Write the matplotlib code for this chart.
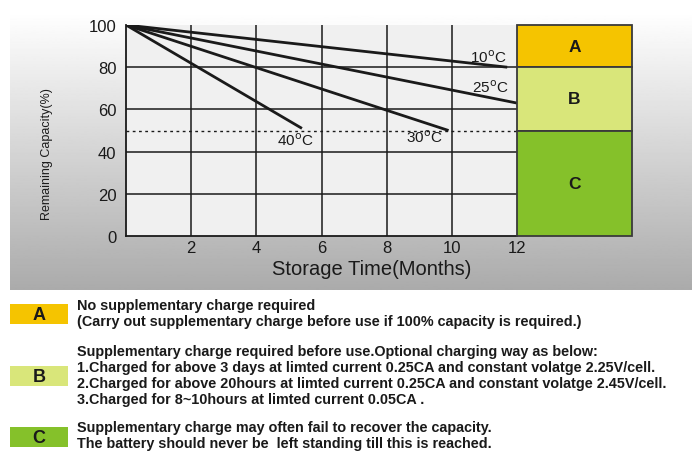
import numpy as np
import matplotlib.pyplot as plt
from matplotlib.patches import Rectangle

# Data
curve_labels = ['10$^\\mathrm{o}$C', '25$^\\mathrm{o}$C', '30$^\\mathrm{o}$C', '40$^\\mathrm{o}$C']
curve_months = [[0, 11.7], [0, 12.0], [0, 9.9], [0, 5.4]]
curve_capacity = [[100, 80], [100, 63], [100, 50], [100, 51]]
label_pos = [(11.12, 84.8), (11.17, 70.9), (9.15, 47.2), (5.19, 45.7)]

x_ticks = [2, 4, 6, 8, 10, 12]
y_ticks = [0, 20, 40, 60, 80, 100]

zone_names = ['A', 'B', 'C']
zone_low = [80, 50, 0]
zone_high = [100, 80, 50]
zone_colors = ['#f5c400', '#d9e67a', '#85c12a']

zone_text = [
    ['No supplementary charge required',
     '(Carry out supplementary charge before use if 100% capacity is required.)'],
    ['Supplementary charge required before use.Optional charging way as below:',
     '1.Charged for above 3 days at limted current 0.25CA and constant volatge 2.25V/cell.',
     '2.Charged for above 20hours at limted current 0.25CA and constant volatge 2.45V/cell.',
     '3.Charged for 8~10hours at limted current 0.05CA .'],
    ['Supplementary charge may often fail to recover the capacity.',
     'The battery should never be  left standing till this is reached.'],
]

W, H = 694, 464
plt.rcParams['font.family'] = ['Liberation Sans', 'DejaVu Sans']
fig = plt.figure(figsize=(W / 100, H / 100), dpi=100)

def fx(px):
    return px / W

def fy(py):
    return 1 - py / H

# gradient background
bg = fig.add_axes([fx(10), fy(291), fx(692 - 10), (291 - 12) / H])
grad = np.linspace(1.0, 0.67, 256).reshape(-1, 1)
bg.imshow(grad, cmap='gray', vmin=0, vmax=1, aspect='auto', extent=[0, 1, 0, 1])
bg.axis('off')

# main plot
ax = fig.add_axes([fx(126), fy(237), fx(517 - 126), (237 - 26) / H])
ax.set_facecolor('#f0f0f0')
ax.set_xlim(0, 12)
ax.set_ylim(0, 100)
for x in x_ticks[:-1]:
    ax.axvline(x, color='#1a1a1a', lw=1.1, zorder=1)
for y in y_ticks[1:-1]:
    ax.axhline(y, color='#1a1a1a', lw=1.1, zorder=1)
ax.plot([0, 12], [50, 50], color='#1a1a1a', lw=1, ls=(0, (2, 2.5)), zorder=2)

for xs, ys, lab, pos in zip(curve_months, curve_capacity, curve_labels, label_pos):
    ax.plot(xs, ys, color='#1a1a1a', lw=2, solid_capstyle='butt', zorder=3)
    ax.text(pos[0], pos[1], lab, ha='center', va='center', fontsize=11, color='#1a1a1a')

for side in ['top', 'right']:
    ax.spines[side].set_visible(False)
for side in ['left', 'bottom']:
    ax.spines[side].set_color('#1a1a1a')
    ax.spines[side].set_linewidth(1.3)

ax.set_xticks(x_ticks)
ax.set_yticks(y_ticks)
ax.tick_params(length=0, labelsize=12, labelcolor='#1a1a1a', pad=7)
ax.tick_params(axis='x', pad=3)

# zones on the right
for name, lo, hi, col in zip(zone_names, zone_low, zone_high, zone_colors):
    ax.add_patch(Rectangle((12, lo), 3.53, hi - lo, facecolor=col, edgecolor='#3a3a3a',
                           lw=1.3, clip_on=False, zorder=4))
    ax.text(12 + 3.53 / 2, (lo + hi) / 2, name, ha='center', va='center',
            fontsize=12.5, fontweight='bold', color='#1a1a1a', zorder=5)

fig.text(fx(47), fy(154), 'Remaining Capacity(%)', rotation=90, ha='center', va='center',
         fontsize=9, color='#1a1a1a', family=['Liberation Sans Narrow', 'Liberation Sans'])
fig.text(fx(372), fy(270), 'Storage Time(Months)', ha='center', va='center',
         fontsize=14.5, color='#1a1a1a')

# legend below
box_top = [305, 367, 428]
text_top = [306, 352, 428]
for name, col, bt, tt, lines in zip(zone_names, zone_colors, box_top, text_top, zone_text):
    fig.patches.append(Rectangle((fx(10), fy(bt + 20)), fx(58), 20 / H, facecolor=col,
                                 edgecolor='none', transform=fig.transFigure))
    fig.text(fx(39), fy(bt + 11), name, ha='center', va='center', fontsize=13,
             fontweight='bold', color='#1a1a1a')
    for i, line in enumerate(lines):
        fig.text(fx(77), fy(tt + 16 * i), line, ha='left', va='center', fontsize=10.4,
                 fontweight='bold', color='#1a1a1a')

fig.savefig('out.png', dpi=100)
